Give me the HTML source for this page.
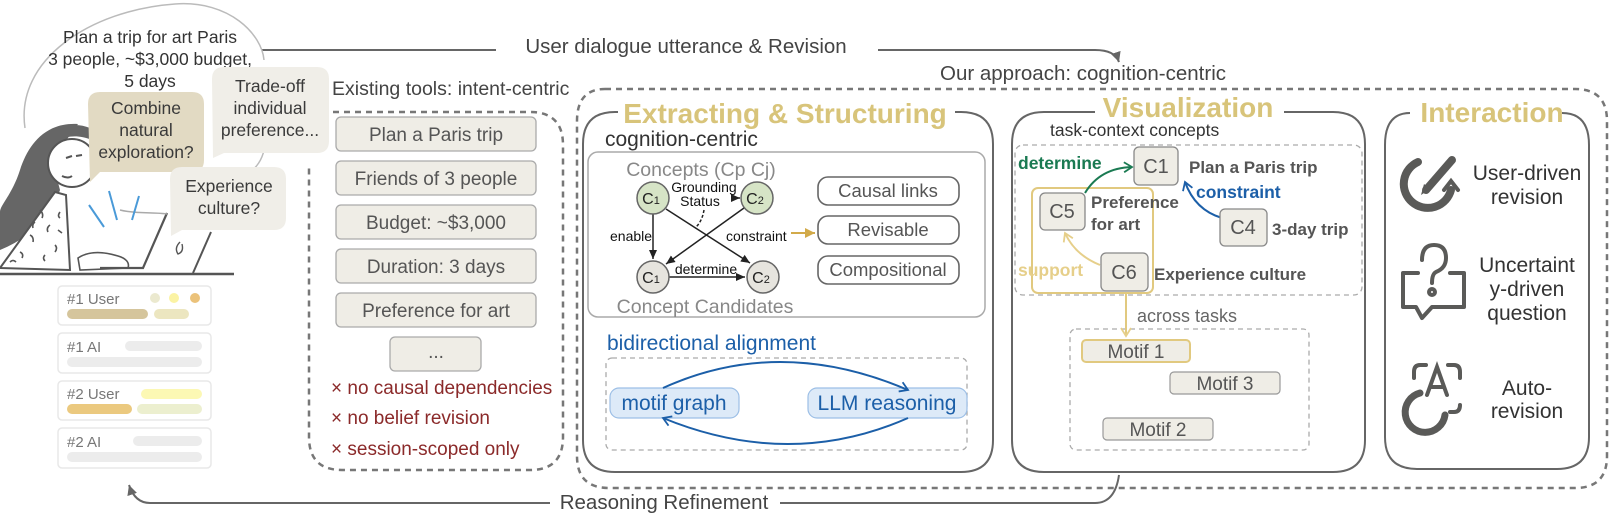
<!DOCTYPE html>
<html><head><meta charset="utf-8"><style>
html,body{margin:0;padding:0;background:#fff;}
svg{display:block;font-family:"Liberation Sans",Arial,sans-serif;}
</style></head><body>
<svg width="1611" height="515" viewBox="0 0 1611 515" xmlns="http://www.w3.org/2000/svg">
<defs>
<marker id="af" markerWidth="12" markerHeight="12" refX="10" refY="6" orient="auto" markerUnits="userSpaceOnUse"><path d="M0,1 L10,6 L0,11 Z" fill="#666"/></marker>
<marker id="ak" markerWidth="10" markerHeight="10" refX="9" refY="5" orient="auto" markerUnits="userSpaceOnUse"><path d="M0,1 L9,5 L0,9 Z" fill="#222"/></marker>
<marker id="ab" markerWidth="12" markerHeight="12" refX="9" refY="6" orient="auto" markerUnits="userSpaceOnUse"><path d="M1,1 L9,6 L1,11" fill="none" stroke="#1c5fa8" stroke-width="1.8"/></marker>
<marker id="agr" markerWidth="12" markerHeight="12" refX="9" refY="6" orient="auto" markerUnits="userSpaceOnUse"><path d="M1,1 L9,6 L1,11" fill="none" stroke="#1a7a52" stroke-width="1.8"/></marker>
<marker id="ay" markerWidth="12" markerHeight="12" refX="9" refY="6" orient="auto" markerUnits="userSpaceOnUse"><path d="M1,1 L9,6 L1,11" fill="none" stroke="#e6cf8a" stroke-width="1.8"/></marker>
<marker id="ayf" markerWidth="12" markerHeight="12" refX="10" refY="6" orient="auto" markerUnits="userSpaceOnUse"><path d="M0,1 L10,6 L0,11 Z" fill="#d2aa4a"/></marker>
</defs>

<!-- top flow arrow -->
<line x1="262" y1="50" x2="496" y2="50" stroke="#666" stroke-width="2"/>
<text x="686" y="53" font-size="20.5" fill="#444" text-anchor="middle">User dialogue utterance &amp; Revision</text>
<path d="M878,50 L1095,50 Q1115,50 1119,62" fill="none" stroke="#666" stroke-width="2" marker-end="url(#af)"/>

<!-- big thought bubble -->
<path d="M25,128 C15,60 90,10 175,4 C230,0 262,35 264,60" fill="none" stroke="#bbb" stroke-width="1.5"/>
<path d="M264,150 C262,160 256,168 250,172" fill="none" stroke="#bbb" stroke-width="1.5"/>
<g font-size="17.5" fill="#333" text-anchor="middle">
<text x="150" y="43">Plan a trip for art Paris</text>
<text x="150" y="65">3 people, ~$3,000 budget,</text>
<text x="150" y="87">5 days</text>
</g>

<!-- person -->
<path d="M78,124 C45,122 28,145 20,170 C12,195 0,205 0,212 L0,250 C20,242 38,228 52,212 L60,190 L52,160 Z" fill="#666"/>
<circle cx="72" cy="163" r="24" fill="#fff" stroke="#555" stroke-width="2"/>
<path d="M48,152 C55,138 72,132 92,140 L90,128 C70,120 52,128 48,152Z" fill="#666"/>
<path d="M66,158 l6,-2 M76,156 l6,-1 M62,176 q6,3 10,0" stroke="#555" stroke-width="2" fill="none"/>
<path d="M55,192 L0,268 L70,270 L66,195 Z" fill="#fff" stroke="#555" stroke-width="2"/>
<g stroke="#555" stroke-width="1.6" fill="none">
<path d="M40,210 q4,4 2,8 M50,225 q-4,3 -2,7 M30,235 q4,2 3,7 M55,245 q3,3 0,7 M20,252 q4,2 2,6 M45,255 q-3,3 0,6 M60,212 q-3,4 0,6 M35,222 q-3,2 -2,6 M10,262 q3,-3 6,0 M58,230 l4,3"/>
</g>
<path d="M78,258 C90,250 105,252 118,256 C125,258 130,262 128,268 L80,270 Z" fill="#fff" stroke="#555" stroke-width="1.6"/>
<path d="M167,213 L143,268 L100,268" fill="none" stroke="#555" stroke-width="2.2"/>
<path d="M211,232 L193,273" fill="none" stroke="#555" stroke-width="2"/>
<path d="M120,210 C135,214 155,212 167,214" fill="none" stroke="#aaa" stroke-width="1.5"/>
<path d="M180,242 q-6,6 -2,12 q6,-2 4,-10" fill="none" stroke="#555" stroke-width="1.4"/>
<g stroke="#4a9ad8" stroke-width="2"><line x1="89" y1="205" x2="104" y2="227"/><line x1="109" y1="191" x2="117" y2="220"/><line x1="139" y1="196" x2="132" y2="220"/></g>
<line x1="0" y1="274" x2="234" y2="274" stroke="#555" stroke-width="2.5"/>

<!-- speech bubbles -->
<path d="M100,92 H192 Q204,92 204,104 V160 Q204,172 192,172 H100 L90,182 L88,104 Q88,92 100,92Z" fill="#e2dac3"/>
<g font-size="17.5" fill="#3a3a3a" text-anchor="middle"><text x="146" y="114">Combine</text><text x="146" y="136">natural</text><text x="146" y="158">exploration?</text></g>
<path d="M224,67 H317 Q329,67 329,79 V141 Q329,153 317,153 H224 L213,158 L212,79 Q212,67 224,67Z" fill="#f0eee8"/>
<g font-size="17.5" fill="#3a3a3a" text-anchor="middle"><text x="270" y="92">Trade-off</text><text x="270" y="114">individual</text><text x="270" y="136">preference...</text></g>
<path d="M182,167 H274 Q286,167 286,179 V218 Q286,230 274,230 H182 L171,236 L170,179 Q170,167 182,167Z" fill="#f0eee8"/>
<g font-size="17.5" fill="#3a3a3a" text-anchor="middle"><text x="229" y="192">Experience</text><text x="229" y="214">culture?</text></g>

<!-- chat cards -->
<g fill="#fff" stroke="#e8e8e8" stroke-width="1.5">
<rect x="58" y="286" width="153" height="39" rx="4"/><rect x="58" y="333" width="153" height="40" rx="4"/>
<rect x="58" y="381" width="153" height="39" rx="4"/><rect x="58" y="428" width="153" height="40" rx="4"/>
</g>
<g font-size="15" fill="#777"><text x="67" y="304">#1 User</text><text x="67" y="352">#1 AI</text><text x="67" y="399">#2 User</text><text x="67" y="447">#2 AI</text></g>
<circle cx="155" cy="298" r="5" fill="#ebe9cf"/><circle cx="174" cy="298" r="5" fill="#fbf3a4"/><circle cx="195" cy="298" r="5" fill="#ebc27a"/>
<rect x="67" y="309" width="81" height="10" rx="5" fill="#d5c59c"/><rect x="154" y="309" width="35" height="10" rx="5" fill="#ece6c0"/>
<rect x="125" y="341" width="77" height="10" rx="5" fill="#ececec"/><rect x="67" y="357" width="135" height="10" rx="5" fill="#ececec"/>
<rect x="141" y="389" width="61" height="10" rx="5" fill="#fcf8b4"/><rect x="67" y="404" width="65" height="10" rx="5" fill="#ebc97f"/><rect x="137" y="404" width="65" height="10" rx="5" fill="#ecefcf"/>
<rect x="133" y="436" width="69" height="10" rx="5" fill="#ececec"/><rect x="67" y="452" width="135" height="10" rx="5" fill="#ececec"/>

<!-- existing tools -->
<text x="332" y="95" font-size="19.5" fill="#444">Existing tools: intent-centric</text>
<path d="M333,112 H530 Q563,112 563,145 V437 Q563,470 530,470 H342 Q309,470 309,437 V165" fill="none" stroke="#777" stroke-width="2.5" stroke-dasharray="6,5"/>
<g fill="#efede6" stroke="#aaa" stroke-width="1.3">
<rect x="336" y="117" width="200" height="34" rx="5"/><rect x="336" y="161" width="200" height="34" rx="5"/>
<rect x="336" y="205" width="200" height="34" rx="5"/><rect x="336" y="249" width="200" height="34" rx="5"/>
<rect x="336" y="293" width="200" height="34" rx="5"/><rect x="390" y="337" width="91" height="34" rx="5"/>
</g>
<g font-size="19" fill="#555" text-anchor="middle">
<text x="436" y="141">Plan a Paris trip</text><text x="436" y="185">Friends of 3 people</text>
<text x="436" y="229">Budget: ~$3,000</text><text x="436" y="273">Duration: 3 days</text>
<text x="436" y="317">Preference for art</text><text x="436" y="358">...</text>
</g>
<g font-size="19" fill="#8b2a2a"><text x="331" y="394">× no causal dependencies</text><text x="331" y="424">× no belief revision</text><text x="331" y="455">× session-scoped only</text></g>

<!-- our approach outer -->
<text x="940" y="80" font-size="20.5" fill="#444">Our approach: cognition-centric</text>
<path d="M605,89 H1575 Q1607,89 1607,121 V456 Q1607,488 1575,488 H609 Q577,488 577,456 V121 Q577,89 605,89" fill="none" stroke="#777" stroke-width="2.5" stroke-dasharray="6,5"/>

<!-- Extracting box -->
<path d="M615,112 Q583,112 583,144 V440 Q583,472 615,472 H961 Q993,472 993,440 V144 Q993,112 961,112 H955 M615,112 H618" fill="none" stroke="#666" stroke-width="2"/>
<text x="785" y="123" font-size="28" font-weight="bold" fill="#d8c47a" text-anchor="middle">Extracting &amp; Structuring</text>
<text x="605" y="146" font-size="21" fill="#333">cognition-centric</text>
<rect x="588" y="152" width="397" height="165" rx="10" fill="none" stroke="#aaa" stroke-width="1.5"/>
<text x="701" y="176" font-size="19.5" fill="#888" text-anchor="middle">Concepts (Cp Cj)</text>
<g stroke="#222" stroke-width="1.5" fill="none">
<line x1="653" y1="214" x2="653" y2="259" marker-end="url(#ak)"/>
<line x1="666" y1="209" x2="750" y2="263" marker-end="url(#ak)"/>
<line x1="744" y1="208" x2="666" y2="264" marker-end="url(#ak)"/>
<line x1="669" y1="277" x2="745" y2="277" marker-end="url(#ak)"/>
<line x1="732" y1="198" x2="740" y2="198" marker-end="url(#ak)"/>
<path d="M704,210 Q702,222 695,228" stroke-dasharray="3,2"/>
</g>
<g stroke="#666" stroke-width="1.5">
<circle cx="653" cy="198" r="16" fill="#d6e4c6"/><circle cx="757" cy="198" r="16" fill="#d6e4c6"/>
<circle cx="653" cy="277" r="16" fill="#e6e4de"/><circle cx="763" cy="277" r="16" fill="#e6e4de"/>
</g>
<g font-size="16" fill="#222" text-anchor="middle">
<text x="651" y="204">C<tspan font-size="11">1</tspan></text><text x="755" y="204">C<tspan font-size="11">2</tspan></text>
<text x="651" y="283">C<tspan font-size="11">1</tspan></text><text x="761" y="283">C<tspan font-size="11">2</tspan></text>
</g>
<g font-size="14" fill="#111">
<text x="704" y="192" text-anchor="middle">Grounding</text><text x="700" y="206" text-anchor="middle">Status</text>
<text x="610" y="241">enable</text><text x="726" y="241">constraint</text><text x="706" y="274" text-anchor="middle">determine</text>
</g>
<text x="705" y="313" font-size="19.5" fill="#888" text-anchor="middle">Concept Candidates</text>
<line x1="791" y1="233" x2="815" y2="233" stroke="#d2aa4a" stroke-width="2" marker-end="url(#ayf)"/>
<g fill="#fff" stroke="#666" stroke-width="1.6">
<rect x="818" y="177" width="141" height="28" rx="10"/><rect x="818" y="216" width="141" height="28" rx="10"/><rect x="818" y="256" width="141" height="28" rx="10"/>
</g>
<g font-size="18.5" fill="#555" text-anchor="middle"><text x="888" y="197">Causal links</text><text x="888" y="236">Revisable</text><text x="888" y="276">Compositional</text></g>
<text x="607" y="350" font-size="21" fill="#1c5fa8">bidirectional alignment</text>
<rect x="606" y="358" width="361" height="92" rx="6" fill="none" stroke="#aaa" stroke-width="1.3" stroke-dasharray="5,4"/>
<g fill="#ddeaf8" stroke="#9dbfe6" stroke-width="1.2"><rect x="610" y="388" width="129" height="30" rx="9"/><rect x="808" y="388" width="159" height="30" rx="9"/></g>
<g font-size="21" fill="#1c5fa8" text-anchor="middle"><text x="674" y="410">motif graph</text><text x="887" y="410">LLM reasoning</text></g>
<path d="M663,388 Q780,335 908,390" fill="none" stroke="#1c5fa8" stroke-width="2" marker-end="url(#ab)"/>
<path d="M908,418 Q790,470 663,418" fill="none" stroke="#1c5fa8" stroke-width="2" marker-end="url(#ab)"/>

<!-- Visualization -->
<path d="M1095,112 H1044 Q1012,112 1012,144 V440 Q1012,472 1044,472 H1333 Q1365,472 1365,440 V144 Q1365,112 1333,112 H1284" fill="none" stroke="#666" stroke-width="2"/>
<text x="1188" y="117" font-size="28" font-weight="bold" fill="#d8c47a" text-anchor="middle">Visualization</text>
<text x="1050" y="136" font-size="17.5" fill="#333">task-context concepts</text>
<rect x="1015" y="145" width="347" height="150" rx="8" fill="none" stroke="#aaa" stroke-width="1.3" stroke-dasharray="5,4"/>
<rect x="1032" y="188" width="121" height="105" rx="6" fill="none" stroke="#e1c97f" stroke-width="2"/>
<path d="M1085,193 Q1100,168 1132,167" fill="none" stroke="#1a7a52" stroke-width="2" marker-end="url(#agr)"/>
<path d="M1222,218 Q1195,210 1185,182" fill="none" stroke="#1c5fa8" stroke-width="2" marker-end="url(#ab)"/>
<path d="M1100,265 Q1075,255 1065,233" fill="none" stroke="#e6cf8a" stroke-width="2" marker-end="url(#ay)"/>
<g fill="#efede6" stroke="#888" stroke-width="1.3">
<rect x="1134" y="147" width="44" height="38" rx="5"/><rect x="1040" y="193" width="45" height="37" rx="5"/>
<rect x="1220" y="209" width="47" height="37" rx="5"/><rect x="1101" y="253" width="47" height="38" rx="5"/>
</g>
<g font-size="20" fill="#555" text-anchor="middle"><text x="1156" y="173">C1</text><text x="1062" y="218">C5</text><text x="1243" y="234">C4</text><text x="1124" y="279">C6</text></g>
<g font-size="17" font-weight="bold" fill="#555">
<text x="1189" y="173">Plan a Paris trip</text><text x="1091" y="208">Preference</text><text x="1091" y="230">for art</text>
<text x="1272" y="235">3-day trip</text><text x="1154" y="280">Experience culture</text>
</g>
<text x="1018" y="169" font-size="17.5" font-weight="bold" fill="#1a7a52">determine</text>
<text x="1196" y="198" font-size="17.5" font-weight="bold" fill="#1c5fa8">constraint</text>
<text x="1018" y="276" font-size="17.5" font-weight="bold" fill="#e6cf8a">support</text>
<text x="1137" y="322" font-size="18" fill="#666">across tasks</text>
<rect x="1070" y="329" width="239" height="121" rx="6" fill="none" stroke="#aaa" stroke-width="1.3" stroke-dasharray="5,4"/>
<line x1="1126" y1="292" x2="1126" y2="336" stroke="#e1c97f" stroke-width="2" marker-end="url(#ay)"/>
<rect x="1082" y="340" width="108" height="22" rx="4" fill="#efede6" stroke="#e1c97f" stroke-width="2"/>
<rect x="1170" y="372" width="110" height="22" rx="4" fill="#efede6" stroke="#999" stroke-width="1.2"/>
<rect x="1103" y="418" width="110" height="22" rx="4" fill="#efede6" stroke="#999" stroke-width="1.2"/>
<g font-size="19" fill="#555" text-anchor="middle"><text x="1136" y="358">Motif 1</text><text x="1225" y="390">Motif 3</text><text x="1158" y="436">Motif 2</text></g>

<!-- Interaction -->
<path d="M1410,113 Q1385,113 1385,145 V437 Q1385,469 1417,469 H1557 Q1589,469 1589,437 V145 Q1589,113 1562,113" fill="none" stroke="#666" stroke-width="2"/>
<text x="1492" y="122" font-size="28" font-weight="bold" fill="#d8c47a" text-anchor="middle">Interaction</text>
<!-- icon 1 -->
<g stroke="#5a5a58" fill="none" stroke-linecap="round">
<path d="M1418,162 A24,24 0 1 0 1451,190" stroke-width="8"/>
<path d="M1444,190 L1451,181 L1458,190" stroke-width="4"/>
<path d="M1426,190 L1452,160" stroke-width="8"/>
</g>
<path d="M1421,195 L1424,184 L1430,189 Z" fill="#5a5a58"/>
<!-- icon 2 -->
<g stroke="#5a5a58" fill="none" stroke-width="4" stroke-linecap="round" stroke-linejoin="round">
<path d="M1418,273 H1403 V307 H1416 L1422,318 L1432,307 H1464 V273 H1450"/>
<path d="M1422,260 Q1422,245 1434,245 Q1446,245 1446,258 Q1446,268 1436,272 Q1432,274 1432,283"/>
<circle cx="1432" cy="292" r="3"/>
</g>
<!-- icon 3 -->
<g stroke="#5a5a58" fill="none" stroke-width="4" stroke-linecap="round">
<path d="M1414,378 V372 Q1414,365 1420,365 H1426 M1448,365 H1454 Q1460,365 1460,372 V378 M1460,405 Q1460,412 1454,412 H1450"/>
<path d="M1427,395 L1437,367 L1447,395 M1430,387 H1444"/>
<path d="M1420,393 A20,20 0 1 0 1445,415" stroke-width="7"/>
</g>
<g font-size="21" fill="#333" text-anchor="middle">
<text x="1527" y="180">User-driven</text><text x="1527" y="204">revision</text>
<text x="1527" y="272">Uncertaint</text><text x="1527" y="296">y-driven</text><text x="1527" y="320">question</text>
<text x="1527" y="395">Auto-</text><text x="1527" y="418">revision</text>
</g>

<!-- bottom arrow -->
<path d="M1119,475 Q1115,503 1095,503 L780,503" fill="none" stroke="#666" stroke-width="2"/>
<text x="664" y="509" font-size="20.5" fill="#444" text-anchor="middle">Reasoning Refinement</text>
<path d="M550,503 L150,503 Q135,503 129,485" fill="none" stroke="#666" stroke-width="2" marker-end="url(#af)"/>
</svg>
</body></html>
